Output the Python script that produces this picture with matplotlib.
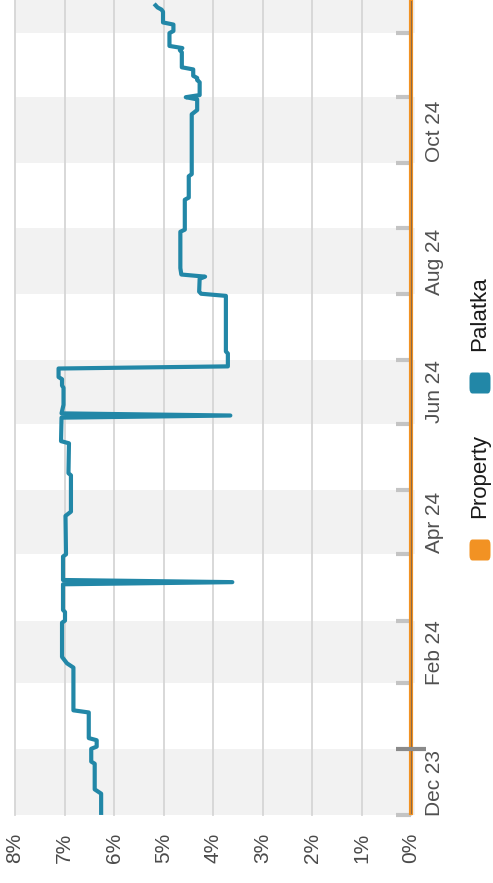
import matplotlib
matplotlib.use("Agg")
import matplotlib.pyplot as plt
import matplotlib.dates as mdates
import matplotlib.transforms as mtransforms
from matplotlib.patches import FancyBboxPatch
import numpy as np
import datetime as dt

plt.rcParams['font.family'] = ['Liberation Sans', 'DejaVu Sans']

# ---------------- data ----------------
palatka_dates = [
    "2023-12-02", "2023-12-11", "2023-12-13", "2023-12-25", "2023-12-26", "2024-01-01",
    "2024-01-02", "2024-01-05", "2024-01-06", "2024-01-18", "2024-01-19", "2024-02-08",
    "2024-02-10", "2024-02-13", "2024-02-29", "2024-03-01", "2024-03-05", "2024-03-06",
    "2024-03-18", "2024-03-19", "2024-03-20", "2024-03-31", "2024-04-01", "2024-04-19",
    "2024-04-21", "2024-05-08", "2024-05-09", "2024-05-23", "2024-05-24", "2024-06-04",
    "2024-06-05", "2024-06-06", "2024-06-10", "2024-06-18", "2024-06-19", "2024-06-22",
    "2024-06-23", "2024-06-27", "2024-06-28", "2024-07-04", "2024-07-05", "2024-07-31",
    "2024-08-01", "2024-08-02", "2024-08-08", "2024-08-09", "2024-08-10", "2024-08-13",
    "2024-08-30", "2024-08-31", "2024-09-14", "2024-09-15", "2024-09-25", "2024-09-26",
    "2024-10-24", "2024-10-26", "2024-10-31", "2024-11-01", "2024-11-02", "2024-11-08",
    "2024-11-09", "2024-11-10", "2024-11-11", "2024-11-14", "2024-11-15", "2024-11-22",
    "2024-11-23", "2024-11-24", "2024-11-25", "2024-12-01", "2024-12-02", "2024-12-05",
    "2024-12-06", "2024-12-11", "2024-12-12", "2024-12-13", "2024-12-14",
]
palatka_values = [
    6.26, 6.26, 6.39, 6.39, 6.46, 6.46,
    6.35, 6.35, 6.51, 6.51, 6.82, 6.82,
    6.95, 7.05, 7.05, 6.99, 6.99, 7.03,
    7.03, 3.61, 7.03, 7.03, 6.97, 6.98,
    6.87, 6.87, 6.92, 6.91, 7.07, 7.06,
    3.65, 7.06, 7.02, 7.02, 7.05, 7.05,
    7.12, 7.12, 3.70, 3.70, 3.74, 3.74,
    4.24, 4.28, 4.27, 4.16, 4.64, 4.66,
    4.66, 4.57, 4.57, 4.49, 4.49, 4.43,
    4.43, 4.32, 4.32, 4.55, 4.27, 4.27,
    4.32, 4.32, 4.40, 4.40, 4.63, 4.63,
    4.67, 4.62, 4.88, 4.88, 4.80, 4.80,
    5.01, 5.01, 5.04, 5.12, 5.16,
]
property_dates = ["2023-12-02", "2024-12-16"]
property_values = [0.0, 0.0]

series_names = ["Property", "Palatka"]
series_colors = ["#f29223", "#2287a7"]

pct_ticks = [0, 1, 2, 3, 4, 5, 6, 7, 8]
pct_labels = ["0%", "1%", "2%", "3%", "4%", "5%", "6%", "7%", "8%"]
month_label_dates = ["2023-12-16", "2024-02-15", "2024-04-16", "2024-06-16", "2024-08-16", "2024-10-16"]
month_labels = ["Dec 23", "Feb 24", "Apr 24", "Jun 24", "Aug 24", "Oct 24"]

# ---------------- figure ----------------
W, H = 493, 883
fig = plt.figure(figsize=(W / 100, H / 100), dpi=100)
fig.patch.set_facecolor("white")
ax = fig.add_axes([15 / W, 1 - 815 / H, 400 / W, 815 / H])
ax.set_facecolor("white")
for s in ax.spines.values():
    s.set_visible(False)

def d(s):
    return mdates.date2num(dt.datetime.strptime(s, "%Y-%m-%d"))

ymin = d("2023-12-01")
ymax = d("2024-12-01") + 15.5
ax.set_ylim(ymin, ymax)
ax.set_xlim(8, -0.08)
ax.set_xticks([])
ax.set_yticks([])

# month bands and ticks
months = []
y0, m0 = 2023, 12
for i in range(14):
    yy = y0 + (m0 - 1 + i) // 12
    mm = (m0 - 1 + i) % 12 + 1
    months.append(mdates.date2num(dt.datetime(yy, mm, 1)))
for i in range(0, 13, 2):
    ax.axhspan(months[i], months[i + 1], color="#f2f2f2", zorder=0, lw=0)

for p in pct_ticks:
    ax.axvline(p, color="#d6d6d6", lw=1.3, zorder=1, clip_on=False)

for i, m in enumerate(months[:13]):
    if i == 1:
        ax.plot([0.3, -0.31], [m, m], color="#8a8a8a", lw=3, solid_capstyle="butt", zorder=5, clip_on=False)
    else:
        ax.plot([0.3, 0.0], [m, m], color="#c4c4c4", lw=3, solid_capstyle="butt", zorder=2, clip_on=False)

# series
pd_ = [d(s) for s in palatka_dates]
ax.plot(palatka_values, pd_, color=series_colors[1], lw=3, zorder=4, solid_joinstyle="round")
prd = [d(s) for s in property_dates]
ax.plot(property_values, prd, color=series_colors[0], lw=3, zorder=3, clip_on=False)
ax.plot(property_values, prd, color="#8c6a45", lw=0.8, zorder=3, clip_on=False)

# labels
tr_month = mtransforms.blended_transform_factory(fig.transFigure, ax.transData)
for ds, lab in zip(month_label_dates, month_labels):
    ax.text(434.5 / W, d(ds), lab, transform=tr_month, rotation=90, ha="center", va="center",
            fontsize=15, color="#505050")
tr_pct = mtransforms.blended_transform_factory(ax.transData, fig.transFigure)
for p, lab in zip(pct_ticks, pct_labels):
    ax.text(p, 1 - 848 / H, lab, transform=tr_pct, rotation=90, ha="center", va="center",
            fontsize=15, color="#4a4a4a", clip_on=False)

# legend (rotated)
leg_sq = [(480, 550), (480, 383)]
leg_txt = [(480, 476), (480, 314)]
for (cx, cy), (tx, ty), name, col in zip(leg_sq, leg_txt, series_names, series_colors):
    sz = 21
    fig.patches.append(FancyBboxPatch(((cx - sz / 2) / W, 1 - (cy + sz / 2) / H), sz / W, sz / H,
                                      boxstyle="round,pad=0,rounding_size=0.006",
                                      transform=fig.transFigure, facecolor=col, edgecolor="none"))
    fig.text(tx / W, 1 - ty / H, name, rotation=90, ha="center", va="center", fontsize=16, color="#1a1a1a")

fig.savefig("out.png", dpi=100)
